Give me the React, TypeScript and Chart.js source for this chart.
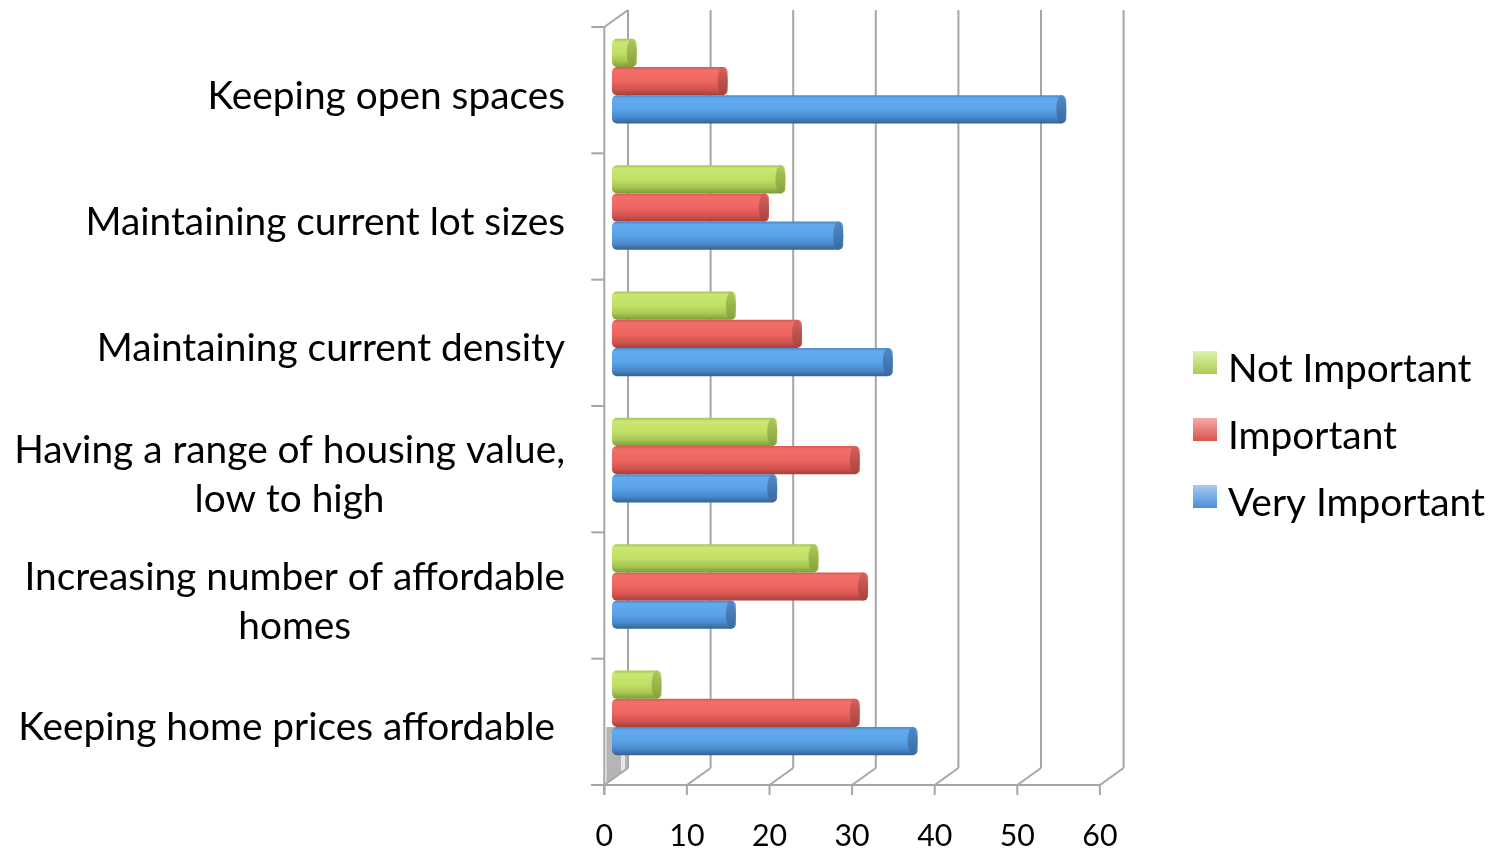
import { useEffect, useRef } from "react";
import { Chart, registerables } from "chart.js";

Chart.register(...registerables);

const categories: (string | string[])[] = [
  "Keeping open spaces",
  "Maintaining current lot sizes",
  "Maintaining current density",
  ["Having a range of housing value,", "low to high"],
  ["Increasing number of affordable", "homes"],
  "Keeping home prices affordable ",
];
const seriesNames = ["Not Important", "Important", "Very Important"];
const notImportant = [3, 21, 15, 20, 25, 6];
const important = [14, 19, 23, 30, 31, 30];
const veryImportant = [55, 28, 34, 20, 15, 37];
const xTicks = [0, 10, 20, 30, 40, 50, 60];

const FONT_FAMILY = "Lato, 'Open Sans', sans-serif";

type Pal = { body: [number, string][]; cap: [string, string]; legend: [string, string] };
const palettes: Pal[] = [
  {
    body: [[0, "#a3c653"], [0.12, "#c9e772"], [0.5, "#c2e066"], [0.78, "#a8c753"], [1, "#7d9c38"]],
    cap: ["#acc95c", "#84a13e"],
    legend: ["#dff3a8", "#a9cc55"],
  },
  {
    body: [[0, "#d85a55"], [0.12, "#f36f6a"], [0.5, "#ee6661"], [0.78, "#d55550"], [1, "#a3403c"]],
    cap: ["#d65f5a", "#a7433f"],
    legend: ["#f8aaa7", "#d9534f"],
  },
  {
    body: [[0, "#4b88c9"], [0.12, "#62abef"], [0.5, "#5aa3e8"], [0.78, "#4a8ace"], [1, "#34628f"]],
    cap: ["#5089c8", "#396a9f"],
    legend: ["#a8cbf5", "#4b8ed6"],
  },
];

const CAT_PCT = 0.67;
const CANVAS_H = 843;
const AREA_BOTTOM = 768;

function fitFontSize(text: string, targetWidth: number): number {
  const c = document.createElement("canvas").getContext("2d")!;
  c.font = `100px ${FONT_FAMILY}`;
  const w = c.measureText(text).width;
  return (100 * targetWidth) / w;
}

export default function App() {
  const ref = useRef<HTMLCanvasElement | null>(null);

  useEffect(() => {
    const canvas = ref.current;
    if (!canvas) return;

    const labelSize = fitFontSize("Having a range of housing value,", 551);
    const tickSize = labelSize * 0.78;
    const tickLineHeight = tickSize * 1.2;

    const barGradient = (ctx: any) => {
      const chart = ctx.chart;
      const pal = palettes[ctx.datasetIndex];
      const area = chart.chartArea;
      if (!area || ctx.type !== "data") return pal.body[2][1];
      const yScale = chart.scales.y;
      const band = (area.bottom - area.top) / categories.length;
      const group = band * CAT_PCT;
      const barH = group / seriesNames.length;
      const center = yScale.getPixelForValue(ctx.dataIndex);
      const top = center - group / 2 + ctx.datasetIndex * barH;
      const g = chart.ctx.createLinearGradient(0, top, 0, top + barH);
      pal.body.forEach(([s, c]) => g.addColorStop(s, c));
      return g;
    };

    const frame3d = {
      id: "frame3d",
      beforeDatasetsDraw(chart: any) {
        const { ctx, scales, chartArea } = chart;
        const x = scales.x;
        const fdx = -7.7, bdx = 16;
        const fdy = 9, bdy = -8;
        const ft = chartArea.top + fdy, fb = chartArea.bottom + fdy;
        const bt = chartArea.top + bdy, bb = chartArea.bottom + bdy;
        const x0f = x.getPixelForValue(0) + fdx;
        const x0b = x.getPixelForValue(0) + bdx;
        const x60f = x.getPixelForValue(60) + fdx;
        ctx.save();
        // side wall patch
        ctx.fillStyle = "#b5b5b5";
        ctx.beginPath();
        ctx.moveTo(x0f + 2, fb - 58);
        ctx.lineTo(x0b - 1, fb - 58);
        ctx.lineTo(x0b - 1, bb);
        ctx.lineTo(x0f + 2, fb - 2);
        ctx.closePath();
        ctx.fill();
        ctx.fillStyle = "#e6e6e6";
        ctx.beginPath();
        ctx.moveTo(x0b - 7, fb - 40);
        ctx.lineTo(x0b - 3, fb - 40);
        ctx.lineTo(x0b - 3, bb + 1);
        ctx.lineTo(x0b - 7, bb + 4);
        ctx.closePath();
        ctx.fill();
        ctx.strokeStyle = "#a6a6a6";
        ctx.lineWidth = 2;
        const line = (a: number, b: number, c: number, d: number) => {
          ctx.beginPath();
          ctx.moveTo(a, b);
          ctx.lineTo(c, d);
          ctx.stroke();
        };
        xTicks.forEach((v) => {
          const px = x.getPixelForValue(v);
          line(px + bdx, bt, px + bdx, bb);
          line(px + fdx, fb, px + bdx, bb);
          line(px + fdx, fb, px + fdx, fb + 10);
        });
        line(x0f - 13, fb, x60f, fb);
        line(x0f, ft, x0f, fb + 10);
        for (let k = 0; k <= categories.length; k++) {
          const yk = ft + (k * (fb - ft)) / categories.length;
          line(x0f - 13, yk, x0f, yk);
        }
        line(x0f, ft, x0b, bt);
        ctx.restore();
      },
      afterDatasetsDraw(chart: any) {
        const { ctx } = chart;
        ctx.save();
        chart.data.datasets.forEach((_ds: any, di: number) => {
          const meta = chart.getDatasetMeta(di);
          const pal = palettes[di];
          meta.data.forEach((el: any) => {
            const { x, y, height } = el.getProps(["x", "y", "height"], true);
            const rx = 5;
            const ry = height / 2;
            const g = ctx.createLinearGradient(0, y - ry, 0, y + ry);
            g.addColorStop(0, pal.cap[0]);
            g.addColorStop(1, pal.cap[1]);
            ctx.fillStyle = g;
            ctx.beginPath();
            ctx.ellipse(x - rx, y, rx, ry, 0, 0, Math.PI * 2);
            ctx.fill();
          });
        });
        ctx.restore();
      },
      afterDraw(chart: any) {
        const { ctx, scales } = chart;
        const y = scales.y;
        const x = scales.x;
        ctx.save();
        ctx.fillStyle = "#000";
        ctx.font = `${labelSize}px ${FONT_FAMILY}`;
        const capH = ctx.measureText("H").actualBoundingBoxAscent;
        const rightEdge = x.getPixelForValue(0) - 47;
        const lineGap = 49;
        categories.forEach((cat, i) => {
          const lines = Array.isArray(cat) ? cat : [cat];
          const widest = Math.max(...lines.map((l) => ctx.measureText(l).width));
          const cx = rightEdge - widest / 2;
          const center = y.getPixelForValue(i) + 13.5;
          ctx.textAlign = "center";
          ctx.textBaseline = "alphabetic";
          lines.forEach((l, j) => {
            const capCenter = center + (j - (lines.length - 1) / 2) * lineGap;
            ctx.fillText(l, cx, capCenter + capH / 2);
          });
        });
        // legend
        const lx = 1185;
        const tops = [343, 410, 477];
        chart.data.datasets.forEach((ds: any, di: number) => {
          const pal = palettes[di];
          const top = tops[di];
          const g = ctx.createLinearGradient(0, top, 0, top + 23);
          g.addColorStop(0, pal.legend[0]);
          g.addColorStop(1, pal.legend[1]);
          ctx.fillStyle = g;
          ctx.fillRect(lx, top, 24, 23);
          ctx.fillStyle = "#000";
          ctx.textAlign = "left";
          ctx.textBaseline = "alphabetic";
          ctx.fillText(ds.label, lx + 35, top + 11.5 + 5.5 + capH / 2);
        });
        ctx.restore();
      },
    };

    const chart = new Chart(canvas, {
      type: "bar",
      data: {
        labels: categories,
        datasets: [
          { label: seriesNames[0], data: notImportant },
          { label: seriesNames[1], data: important },
          { label: seriesNames[2], data: veryImportant },
        ].map((d) => ({
          ...d,
          backgroundColor: barGradient,
          borderWidth: 0,
          borderRadius: 5,
          borderSkipped: false,
          barPercentage: 1,
          categoryPercentage: CAT_PCT,
        })),
      },
      options: {
        indexAxis: "y",
        animation: false,
        responsive: true,
        maintainAspectRatio: false,
        layout: { padding: { left: 604, right: 379.4, top: 10, bottom: 0 } },
        plugins: {
          legend: { display: false },
          tooltip: { enabled: false },
        },
        scales: {
          x: {
            min: 0,
            max: 60,
            position: "bottom",
            grid: { display: false, drawTicks: false },
            border: { display: false },
            ticks: {
              stepSize: 10,
              color: "#000",
              font: { family: FONT_FAMILY, size: tickSize },
              padding: 828.5 - AREA_BOTTOM - tickLineHeight / 2,
              labelOffset: -7.7,
              maxRotation: 0,
              autoSkip: false,
            },
            afterFit: (scale: any) => {
              scale.height = CANVAS_H - AREA_BOTTOM;
            },
          },
          y: {
            display: false,
          },
        },
      },
      plugins: [frame3d],
    } as any);

    return () => chart.destroy();
  }, []);

  return (
    <div style={{ width: 1479, height: CANVAS_H, position: "relative" }}>
      <canvas ref={ref} />
    </div>
  );
}
